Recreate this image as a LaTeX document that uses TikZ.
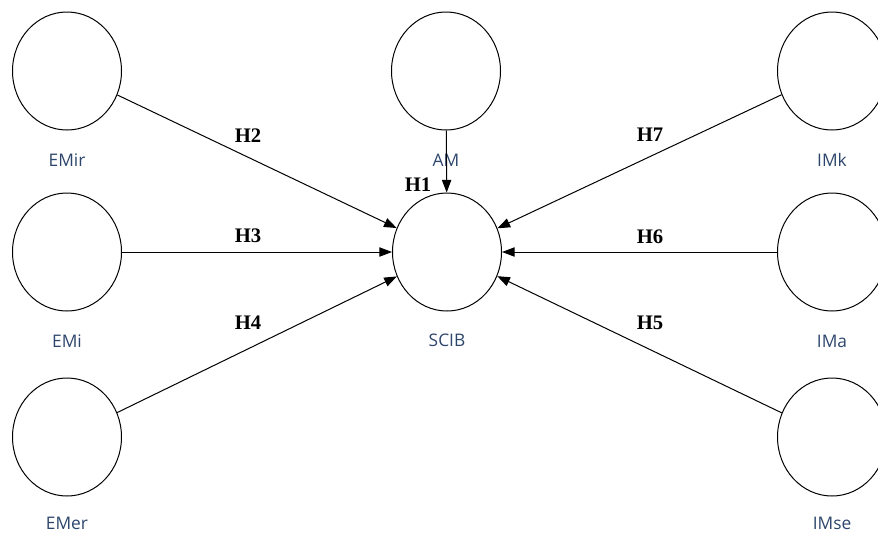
\documentclass[tikz,border=0pt]{standalone}
\usepackage{fontspec}
\setmainfont{Liberation Serif}
\newfontfamily\labfont{Open Sans}
\usetikzlibrary{shapes.geometric,arrows.meta}
\definecolor{labblue}{RGB}{45,70,108}
\begin{document}
\begin{tikzpicture}[x=0.75pt,y=-0.75pt,line width=0.75pt,>={Triangle[length=9.5pt,width=7pt]},
        var/.style={draw,ellipse,minimum width=81.75pt,minimum height=88.5pt,inner sep=0pt},
        vname/.style={font=\labfont\fontsize{13}{15}\selectfont,text=labblue,inner sep=0pt},
        hyp/.style={font=\bfseries\fontsize{15.5}{18}\selectfont,inner sep=0pt}]
        \useasboundingbox(0,0)rectangle(878,533);
        \foreach \n/\x/\y/\d in{EMir/67/71/89,EMi/67/252/89,EMer/67/437/86,AM/446/71/89,SCIB/447/252/88,IMk/832/71/89,IMa/832/252/89,IMse/832/437/86}{
        \node[var](\n)at(\x,\y){};
        \node[vname](\n-t)at(\x,\y+\d){\n};
        }
        \foreach \n in{EMir,EMi,EMer,IMk,IMa,IMse}
        \draw[->](\n)--(SCIB);
        \draw[->](AM)--(SCIB);
        \node[hyp](h1)at(418,185){H1};
        \node[hyp](h2)at(248,136){H2};
        \node[hyp](h3)at(248,236){H3};
        \node[hyp](h4)at(248,323){H4};
        \node[hyp](h5)at(650,323){H5};
        \node[hyp](h6)at(650,237){H6};
        \node[hyp](h7)at(650,135){H7};
    \end{tikzpicture}
\end{document}
